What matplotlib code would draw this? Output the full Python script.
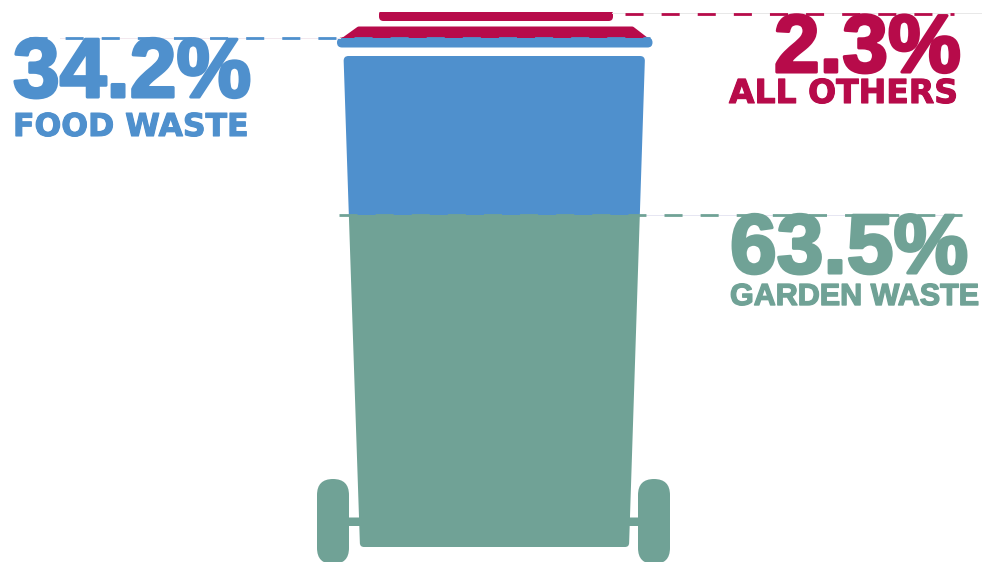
import matplotlib
matplotlib.use("Agg")
import matplotlib.pyplot as plt
import matplotlib.patheffects as pe
from matplotlib.path import Path
from matplotlib.patches import PathPatch, FancyBboxPatch

# data
categories = ["GARDEN WASTE", "FOOD WASTE", "ALL OTHERS"]
percentages = [63.5, 34.2, 2.3]
colors = ["#70A296", "#4F90CD", "#B70B4A"]

# picture rows (px from top) where each band starts and stops
band_tops = [215, 38, 12]
band_bottoms = [563, 215, 38]

plt.rcParams["font.family"] = ["Liberation Sans", "DejaVu Sans"]

fig = plt.figure(figsize=(9.82, 5.62), dpi=100)
ax = fig.add_axes([0, 0, 1, 1])
ax.set_xlim(0, 982)
ax.set_ylim(562, 0)
ax.axis("off")


def rounded_poly(pts, radii):
    # closed polygon with quadratic corners
    n = len(pts)
    verts, codes = [], []
    for i in range(n):
        x, y = pts[i]
        x0, y0 = pts[i - 1]
        x1, y1 = pts[(i + 1) % n]
        r = radii[i]
        d0 = ((x0 - x) ** 2 + (y0 - y) ** 2) ** 0.5
        d1 = ((x1 - x) ** 2 + (y1 - y) ** 2) ** 0.5
        a = (x + (x0 - x) * r / d0, y + (y0 - y) * r / d0)
        b = (x + (x1 - x) * r / d1, y + (y1 - y) * r / d1)
        verts += [a, (x, y), b]
        codes += [Path.MOVETO if i == 0 else Path.LINETO, Path.CURVE3, Path.CURVE3]
    verts.append(verts[0])
    codes.append(Path.CLOSEPOLY)
    return Path(verts, codes)


def pill(x0, y0, x1, y1, r):
    box = FancyBboxPatch((x0 + r, y0 + r), x1 - x0 - 2 * r, y1 - y0 - 2 * r,
                         boxstyle="round,pad=%f,rounding_size=%f" % (r, r))
    return box.get_path().transformed(box.get_patch_transform())


# bin silhouette
parts = [
    pill(379, 10, 613, 21, 4.5),
    rounded_poly([(358, 26.5), (633, 26.5), (648, 38), (342, 38)], [1, 1, 0.5, 0.5]),
    pill(337, 37.5, 652.5, 47.5, 5),
    rounded_poly([(343.5, 56), (645, 56), (629, 547), (360, 547)], [5, 5, 4, 4]),
    pill(317, 479, 349, 564, 16),
    pill(638, 479, 670, 564, 16),
    rounded_poly([(345, 517.5), (365, 517.5), (365, 526), (345, 526)], [0.1] * 4),
    rounded_poly([(625, 517.5), (642, 517.5), (642, 526), (625, 526)], [0.1] * 4),
]
silhouette = PathPatch(Path.make_compound_path(*parts), transform=ax.transData,
                       fc="none", ec="none")
ax.add_patch(silhouette)

# stacked bands clipped by the bin
heights = [b - t for t, b in zip(band_tops, band_bottoms)]
bars = ax.bar([495] * 3, heights, width=400, bottom=band_tops, color=colors, linewidth=0)
for bar in bars:
    bar.set_clip_path(silhouette)

# leader lines: faint line + dashes (18 px on, 18 px off)
leaders = [
    (339, 962, 215, colors[0]),
    (29, 650, 37.5, colors[1]),
    (625, 954, 13.5, colors[2]),
]
ax.plot([612, 982], [13, 13], color="#e8e8e8", lw=0.7, zorder=1)
ax.plot([60, 340], [38, 38], color="#f2e8ee", lw=0.7, zorder=1)
ax.plot([640, 962], [215, 215], color="#e6e6f2", lw=0.7, zorder=1)
for x0, x1, y, c in leaders:
    ax.plot([x0, x1], [y, y], color=c, lw=2, dashes=(6.5, 6.5), dash_capstyle="butt", zorder=3)

# labels
px = 0.72


def label(x, y, s, size, c, stroke, family="Liberation Sans"):
    ax.text(x, y, s, fontsize=size * px, color=c, fontweight="bold", ha="left", va="baseline",
            family=family, zorder=4, path_effects=[pe.withStroke(linewidth=stroke, foreground=c)])


label(13, 97, f"{percentages[1]}%", 84, colors[1], 2.2)
label(13, 136, categories[1], 31.5, colors[1], 0.8, "DejaVu Sans")
label(774, 72, f"{percentages[2]}%", 82, colors[2], 2.2)
label(729, 103, categories[2], 33, colors[2], 0.8, "DejaVu Sans")
label(730, 273, f"{percentages[0]}%", 84, colors[0], 2.2)
label(730, 305, categories[0], 30.5, colors[0], 1.0)

fig.savefig("out.png", dpi=100)
